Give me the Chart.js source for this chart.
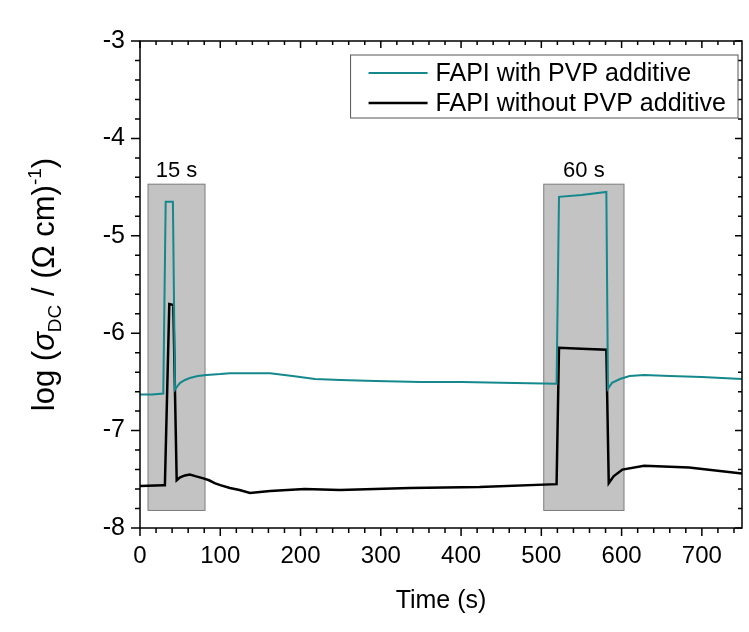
<!DOCTYPE html>
<html lang="en">
<head>
<meta charset="UTF-8">
<title>FAPI conductivity vs time</title>
<script src="https://cdn.jsdelivr.net/npm/chart.js@4.4.0/dist/chart.umd.min.js"></script>
<style>
    html, body { margin: 0; padding: 0; background: #ffffff; }
</style>
</head>
<body>
<canvas id="condChart" width="749" height="632"></canvas>
<script>
// FAPI with PVP additive (time in s, log sigma)
const tealTime = [0, 15, 29, 32, 41, 43.6, 47, 50, 56, 62, 72, 83, 100, 112, 137, 162, 190, 218, 250, 293, 350, 401, 450, 519,
    522, 550, 581, 583, 588, 598, 610, 628, 660, 700, 750];
const tealLog = [-6.63, -6.63, -6.62, -4.65, -4.65, -6.58, -6.54, -6.51, -6.48, -6.46, -6.44, -6.43, -6.42, -6.41, -6.41, -6.41, -6.44, -6.47, -6.48, -6.49, -6.50, -6.50, -6.51, -6.52,
    -4.60, -4.58, -4.55, -6.57, -6.51, -6.47, -6.44, -6.43, -6.44, -6.45, -6.47];

// FAPI without PVP additive
const blackTime = [0, 29, 31, 36.5, 41.5, 45.7, 50, 56, 62, 70, 79, 86, 93, 100, 112, 124, 137, 162, 205, 249, 336, 423, 519,
    522, 550, 581, 584, 590, 601, 628, 684, 750];
const blackLog = [-7.57, -7.56, -7.56, -5.70, -5.71, -7.51, -7.48, -7.46, -7.45, -7.47, -7.49, -7.51, -7.54, -7.56, -7.59, -7.61, -7.64, -7.62, -7.60, -7.61, -7.59, -7.58, -7.55,
    -6.15, -6.16, -6.17, -7.54, -7.47, -7.40, -7.36, -7.38, -7.44];

// illumination windows
const boxStart = [10, 503];
const boxEnd = [81, 603];
const boxLabels = ['15 s', '60 s'];
const boxTop = -4.47;
const boxBottom = -7.82;

const xTickValues = [0, 100, 200, 300, 400, 500, 600, 700];
const seriesNames = ['FAPI with PVP additive', 'FAPI without PVP additive'];
const seriesColors = ['#14888c', '#000000'];

const FONT = '"Liberation Sans", Arial, sans-serif';

function toPoints(xs, ys) {
    return xs.map((x, i) => ({ x: x, y: ys[i] }));
}

// grey boxes + their labels, behind the curves
const boxPlugin = {
    id: 'boxes',
    beforeDatasetsDraw(chart) {
        const { ctx, scales: { x, y } } = chart;
        ctx.save();
        boxStart.forEach((s, i) => {
            const x0 = x.getPixelForValue(s);
            const x1 = x.getPixelForValue(boxEnd[i]);
            const y0 = y.getPixelForValue(boxTop);
            const y1 = y.getPixelForValue(boxBottom);
            ctx.fillStyle = '#c3c3c3';
            ctx.fillRect(x0, y0, x1 - x0, y1 - y0);
            ctx.strokeStyle = '#7c7c7c';
            ctx.lineWidth = 1;
            ctx.strokeRect(x0, y0, x1 - x0, y1 - y0);
            ctx.fillStyle = '#000';
            ctx.font = '22px ' + FONT;
            ctx.textAlign = 'center';
            ctx.textBaseline = 'alphabetic';
            ctx.fillText(boxLabels[i], (x0 + x1) / 2, y0 - 7);
        });
        ctx.restore();
    }
};

// closed frame with ticks on all four sides
const framePlugin = {
    id: 'frame',
    afterDatasetsDraw(chart) {
        const { ctx, chartArea: a, scales: { x, y } } = chart;
        ctx.save();
        ctx.strokeStyle = '#000';
        ctx.lineWidth = 1.5;
        ctx.strokeRect(a.left, a.top, a.right - a.left, a.bottom - a.top);
        ctx.beginPath();
        for (let v = 0; v <= 740; v += 20) {
            const px = x.getPixelForValue(v);
            const major = v % 100 === 0;
            ctx.moveTo(px, a.bottom);
            ctx.lineTo(px, a.bottom + (major ? 8 : 5));
            ctx.moveTo(px, a.top);
            ctx.lineTo(px, a.top + (major ? 7 : 4));
        }
        for (let k = 0; k <= 25; k++) {
            const py = y.getPixelForValue(-8 + k * 0.2);
            const major = k % 5 === 0;
            ctx.moveTo(a.left, py);
            ctx.lineTo(a.left - (major ? 9 : 5), py);
            ctx.moveTo(a.right, py);
            ctx.lineTo(a.right - (major ? 7 : 4), py);
        }
        ctx.stroke();
        ctx.restore();
    }
};

// legend box in the top right corner + rotated y title with sub/superscripts
const extrasPlugin = {
    id: 'extras',
    afterDraw(chart) {
        const { ctx, chartArea: a } = chart;
        ctx.save();

        ctx.font = '25px ' + FONT;
        const textW = Math.max(...seriesNames.map(n => ctx.measureText(n).width));
        const right = a.right - 4;
        const left = right - (18 + 59 + 8 + textW + 12);
        const top = a.top + 14;
        const h = 63;
        ctx.fillStyle = '#fff';
        ctx.fillRect(left, top, right - left, h);
        ctx.strokeStyle = '#555';
        ctx.lineWidth = 1;
        ctx.strokeRect(left, top, right - left, h);
        seriesNames.forEach((n, i) => {
            const cy = top + 18 + i * 30;
            ctx.strokeStyle = seriesColors[i];
            ctx.lineWidth = i === 0 ? 2 : 2.5;
            ctx.beginPath();
            ctx.moveTo(left + 18, cy);
            ctx.lineTo(left + 77, cy);
            ctx.stroke();
            ctx.fillStyle = '#000';
            ctx.textAlign = 'left';
            ctx.textBaseline = 'middle';
            ctx.fillText(n, left + 85, cy + 1);
        });

        const parts = [
            { t: 'log (', size: 31, dy: 0 },
            { t: 'σ', size: 31, dy: 0, italic: true },
            { t: 'DC', size: 19, dy: 7 },
            { t: ' / (Ω cm)', size: 31, dy: 0 },
            { t: '-1', size: 19, dy: -13 },
            { t: ')', size: 31, dy: 0 }
        ];
        const fontOf = p => (p.italic ? 'italic ' : '') + p.size + 'px ' + FONT;
        let total = 0;
        parts.forEach(p => { ctx.font = fontOf(p); p.w = ctx.measureText(p.t).width; total += p.w; });
        ctx.translate(54, (a.top + a.bottom) / 2);
        ctx.rotate(-Math.PI / 2);
        ctx.fillStyle = '#000';
        ctx.textAlign = 'left';
        ctx.textBaseline = 'alphabetic';
        let cx = -total / 2;
        parts.forEach(p => {
            ctx.font = fontOf(p);
            ctx.fillText(p.t, cx, p.dy);
            cx += p.w;
        });
        ctx.restore();
    }
};

new Chart(document.getElementById('condChart'), {
    type: 'line',
    data: {
        datasets: [
            {
                label: seriesNames[0],
                data: toPoints(tealTime, tealLog),
                borderColor: seriesColors[0],
                borderWidth: 2,
                pointRadius: 0,
                tension: 0
            },
            {
                label: seriesNames[1],
                data: toPoints(blackTime, blackLog),
                borderColor: seriesColors[1],
                borderWidth: 2.5,
                pointRadius: 0,
                tension: 0
            }
        ]
    },
    options: {
        responsive: false,
        animation: false,
        layout: { padding: { top: 41, right: 7, left: 0, bottom: 0 } },
        plugins: {
            legend: { display: false },
            tooltip: { enabled: false }
        },
        scales: {
            x: {
                type: 'linear',
                min: 0,
                max: 750,
                grid: { display: false, drawTicks: false },
                border: { display: false },
                ticks: { autoSkip: false, color: '#000', font: { family: FONT, size: 24 }, padding: 14, maxRotation: 0 },
                afterBuildTicks: s => { s.ticks = xTickValues.map(v => ({ value: v })); },
                afterFit: s => { s.height = 104; },
                title: { display: true, text: 'Time (s)', color: '#000', font: { family: FONT, size: 25 }, padding: { top: 0, bottom: 16 } }
            },
            y: {
                min: -8,
                max: -3,
                grid: { display: false, drawTicks: false },
                border: { display: false },
                ticks: { stepSize: 1, color: '#000', font: { family: FONT, size: 25 }, padding: 15 },
                afterFit: s => { s.width = 140; }
            }
        }
    },
    plugins: [boxPlugin, framePlugin, extrasPlugin]
});
</script>
</body>
</html>
